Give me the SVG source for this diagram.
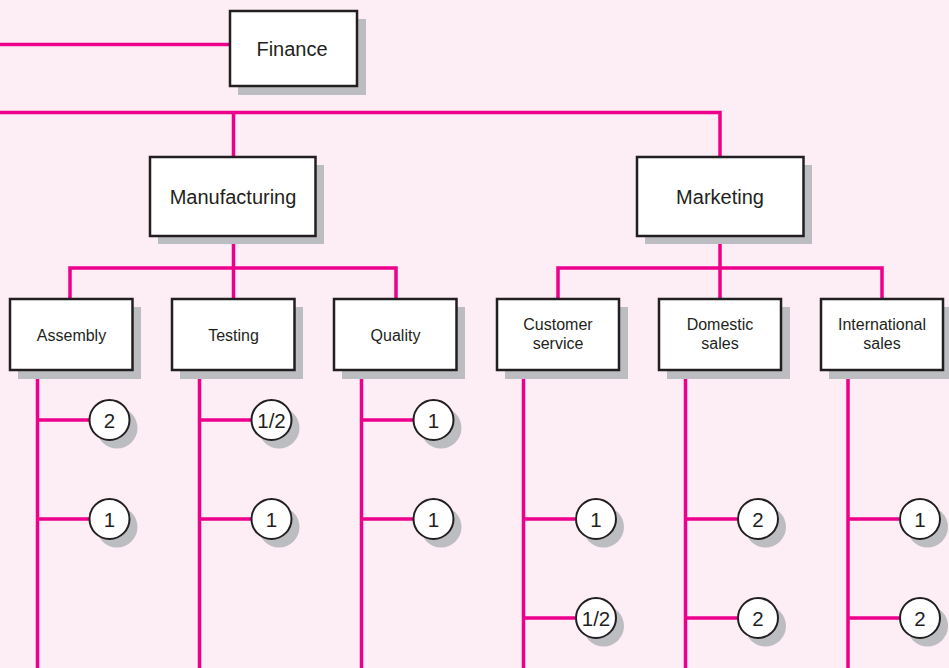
<svg xmlns="http://www.w3.org/2000/svg" width="949" height="668" viewBox="0 0 949 668">
<defs>
<style>
.bg{fill:#fdedf4}
.ln{stroke:#ec008c;stroke-width:3.5;fill:none;stroke-linecap:butt;stroke-linejoin:miter}
.sh{fill:#bcbdc1}
.bx{fill:#ffffff;stroke:#231f20;stroke-width:2.5}
.ci{fill:#ffffff;stroke:#231f20;stroke-width:2}
.t{font-family:"Liberation Sans",Arial,sans-serif;fill:#231f20;text-anchor:middle}
.big{font-size:20px}
.sm{font-size:16px}
.num{font-size:20.5px}
</style>
</defs>
<rect class="bg" x="0" y="0" width="949" height="668"/>
<g id="connectors">
<path class="ln" d="M0 44.5H230"/>
<path class="ln" d="M0 112.5H720V157"/>
<path class="ln" d="M233.5 112.5V157"/>
<path class="ln" d="M233.5 236V268M70 299V268H396V299M233.5 268V299"/>
<path class="ln" d="M720 236V268M558 299V268H882V299M720 268V299"/>
<path class="ln" d="M37.5 370V668M37.5 420H89M37.5 519H89"/>
<path class="ln" d="M199.5 370V668M199.5 420H251M199.5 519H251"/>
<path class="ln" d="M361.5 370V668M361.5 420H413M361.5 519H413"/>
<path class="ln" d="M523.5 370V668M523.5 519H575M523.5 618H575"/>
<path class="ln" d="M685.5 370V668M685.5 519H737M685.5 618H737"/>
<path class="ln" d="M848 370V668M848 519H899M848 618H899"/>
</g>
<g id="finance">
<rect class="sh" x="238" y="19" width="128" height="76"/>
<rect class="bx" x="230" y="11" width="127" height="75"/>
<text class="t big" x="292" y="56">Finance</text>
</g>
<g id="manufacturing">
<rect class="sh" x="158" y="165" width="166" height="79"/>
<rect class="bx" x="150" y="157" width="165.5" height="79"/>
<text class="t big" x="233" y="204">Manufacturing</text>
</g>
<g id="marketing">
<rect class="sh" x="645" y="165" width="167" height="79"/>
<rect class="bx" x="637" y="157" width="166.5" height="79"/>
<text class="t big" x="720" y="204">Marketing</text>
</g>
<g id="assembly">
<rect class="sh" x="18" y="307" width="123" height="72"/>
<rect class="bx" x="10" y="299" width="122.5" height="71"/>
<text class="t sm" x="71.5" y="341">Assembly</text>
</g>
<g id="testing">
<rect class="sh" x="180" y="307" width="123" height="72"/>
<rect class="bx" x="172" y="299" width="122.5" height="71"/>
<text class="t sm" x="233.5" y="341">Testing</text>
</g>
<g id="quality">
<rect class="sh" x="342" y="307" width="123" height="72"/>
<rect class="bx" x="334" y="299" width="122.5" height="71"/>
<text class="t sm" x="395.5" y="341">Quality</text>
</g>
<g id="customer-service">
<rect class="sh" x="505" y="307" width="123" height="72"/>
<rect class="bx" x="497" y="299" width="122" height="71"/>
<text class="t sm" x="558" y="330">Customer</text>
<text class="t sm" x="558" y="349">service</text>
</g>
<g id="domestic-sales">
<rect class="sh" x="667" y="307" width="123" height="72"/>
<rect class="bx" x="659" y="299" width="122" height="71"/>
<text class="t sm" x="720" y="330">Domestic</text>
<text class="t sm" x="720" y="349">sales</text>
</g>
<g id="international-sales">
<rect class="sh" x="829" y="307" width="123" height="72"/>
<rect class="bx" x="821" y="299" width="122" height="71"/>
<text class="t sm" x="882" y="330">International</text>
<text class="t sm" x="882" y="349">sales</text>
</g>
<g id="c-assembly-1"><circle class="sh" cx="117" cy="428" r="20.5"/><circle class="ci" cx="109.5" cy="420" r="20"/><text class="t num" x="109.5" y="427.5">2</text></g>
<g id="c-assembly-2"><circle class="sh" cx="117" cy="527" r="20.5"/><circle class="ci" cx="109.5" cy="519" r="20"/><text class="t num" x="109.5" y="526.5">1</text></g>
<g id="c-testing-1"><circle class="sh" cx="279" cy="428" r="20.5"/><circle class="ci" cx="271.5" cy="420" r="20"/><text class="t num" x="271.5" y="427.5">1/2</text></g>
<g id="c-testing-2"><circle class="sh" cx="279" cy="527" r="20.5"/><circle class="ci" cx="271.5" cy="519" r="20"/><text class="t num" x="271.5" y="526.5">1</text></g>
<g id="c-quality-1"><circle class="sh" cx="441" cy="428" r="20.5"/><circle class="ci" cx="433.5" cy="420" r="20"/><text class="t num" x="433.5" y="427.5">1</text></g>
<g id="c-quality-2"><circle class="sh" cx="441" cy="527" r="20.5"/><circle class="ci" cx="433.5" cy="519" r="20"/><text class="t num" x="433.5" y="526.5">1</text></g>
<g id="c-cs-1"><circle class="sh" cx="603.5" cy="527" r="20.5"/><circle class="ci" cx="596" cy="519" r="20"/><text class="t num" x="596" y="526.5">1</text></g>
<g id="c-cs-2"><circle class="sh" cx="603.5" cy="626" r="20.5"/><circle class="ci" cx="596" cy="618" r="20"/><text class="t num" x="596" y="625.5">1/2</text></g>
<g id="c-ds-1"><circle class="sh" cx="765.5" cy="527" r="20.5"/><circle class="ci" cx="758" cy="519" r="20"/><text class="t num" x="758" y="526.5">2</text></g>
<g id="c-ds-2"><circle class="sh" cx="765.5" cy="626" r="20.5"/><circle class="ci" cx="758" cy="618" r="20"/><text class="t num" x="758" y="625.5">2</text></g>
<g id="c-is-1"><circle class="sh" cx="927.5" cy="527" r="20.5"/><circle class="ci" cx="920" cy="519" r="20"/><text class="t num" x="920" y="526.5">1</text></g>
<g id="c-is-2"><circle class="sh" cx="927.5" cy="626" r="20.5"/><circle class="ci" cx="920" cy="618" r="20"/><text class="t num" x="920" y="625.5">2</text></g>
</svg>
